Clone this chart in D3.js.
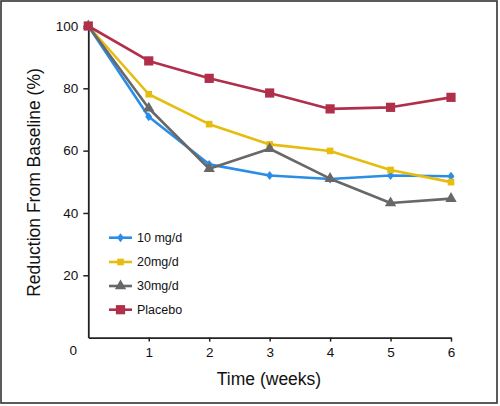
<!DOCTYPE html>
<html><head><meta charset="utf-8">
<script src="https://cdn.jsdelivr.net/npm/d3@7"></script>
<style>body{margin:0;background:#fff}svg{display:block;font-family:"Liberation Sans",Arial,sans-serif}</style>
</head><body>
<svg id="c" width="500" height="406"></svg>
<script>
const weeks = [0, 1, 2, 3, 4, 5, 6];
const seriesNames = ["10 mg/d", "20mg/d", "30mg/d", "Placebo"];
const dose10 = [100, 70.9, 55.6, 52.0, 50.9, 52.0, 51.8];
const dose20 = [100, 78.1, 68.5, 62.0, 59.9, 53.8, 49.9];
const dose30 = [100, 73.6, 54.2, 60.6, 51.0, 43.2, 44.6];
const placebo = [100, 88.8, 83.2, 78.5, 73.4, 73.9, 77.1];
const xTicks = [1, 2, 3, 4, 5, 6];
const yTicks = [20, 40, 60, 80, 100];

const colors = ["#2a8de6", "#e6bd0e", "#686868", "#b0304c"];
const shapes = [d3.symbolDiamond, d3.symbolSquare, d3.symbolTriangle, d3.symbolSquare];
const sizes = [32, 44, 56, 85];
const shapeScale = ["scale(1.15,0.85)", "", "", ""];
const data = [dose10, dose20, dose30, placebo];

const svg = d3.select("#c");
svg.append("rect").attr("x", 1).attr("y", 1).attr("width", 496).attr("height", 402)
  .attr("fill", "none").attr("stroke", "#333").attr("stroke-width", 1.6);

const x = d3.scaleLinear().domain([0, 6]).range([88.3, 451]);
const y = d3.scaleLinear().domain([0, 100]).range([337.6, 26]);

const xAxis = svg.append("g").attr("transform", `translate(0,${y(0)})`)
  .call(d3.axisBottom(x).tickValues(xTicks).tickFormat(d3.format("d")).tickSize(4).tickSizeOuter(0).tickPadding(6));
const yAxis = svg.append("g").attr("transform", `translate(${x(0)},0)`)
  .call(d3.axisLeft(y).tickValues(yTicks).tickFormat(d3.format("d")).tickSize(5).tickSizeOuter(0).tickPadding(5));
[xAxis, yAxis].forEach(g => {
  g.select(".domain").attr("stroke", "#222").attr("stroke-width", 1.8);
  g.selectAll(".tick line").attr("stroke", "#222").attr("stroke-width", 1.5);
  g.selectAll(".tick text").attr("fill", "#111").style("font-size", "13.5px");
});
svg.append("text").attr("x", x(0) - 15).attr("y", y(0)).attr("dy", "1.3em")
  .attr("text-anchor", "middle").attr("fill", "#111").style("font-size", "13.5px").text("0");

svg.append("text").attr("transform", `translate(40,182.5) rotate(-90)`)
  .attr("text-anchor", "middle").attr("fill", "#111").style("font-size", "17.5px")
  .text("Reduction From Baseline (%)");
svg.append("text").attr("x", 269).attr("y", 385)
  .attr("text-anchor", "middle").attr("fill", "#111").style("font-size", "17.5px")
  .text("Time (weeks)");

const line = d3.line().x((d, i) => x(weeks[i])).y(d => y(d));
data.forEach((vals, s) => {
  const g = svg.append("g");
  g.append("path").datum(vals).attr("d", line).attr("fill", "none")
    .attr("stroke", colors[s]).attr("stroke-width", 2.6).attr("stroke-linejoin", "round");
  g.selectAll("path.m").data(vals).join("path").attr("class", "m")
    .attr("transform", (d, i) => `translate(${x(weeks[i])},${y(d)}) ${shapeScale[s]}`)
    .attr("d", d3.symbol().type(shapes[s]).size(sizes[s]))
    .attr("fill", colors[s]);
});

const leg = svg.append("g");
const legY = [237.7, 262, 286, 309.7];
seriesNames.forEach((name, s) => {
  const row = leg.append("g").attr("transform", `translate(0,${legY[s]})`);
  row.append("line").attr("x1", 109).attr("x2", 132).attr("stroke", colors[s]).attr("stroke-width", 2.6);
  row.append("path").attr("transform", `translate(120.5,0) ${shapeScale[s]}`)
    .attr("d", d3.symbol().type(shapes[s]).size(sizes[s])).attr("fill", colors[s]);
  row.append("text").attr("x", 137).attr("dy", "0.35em").attr("fill", "#111")
    .style("font-size", "12.5px").text(name);
});
</script>
</body></html>
